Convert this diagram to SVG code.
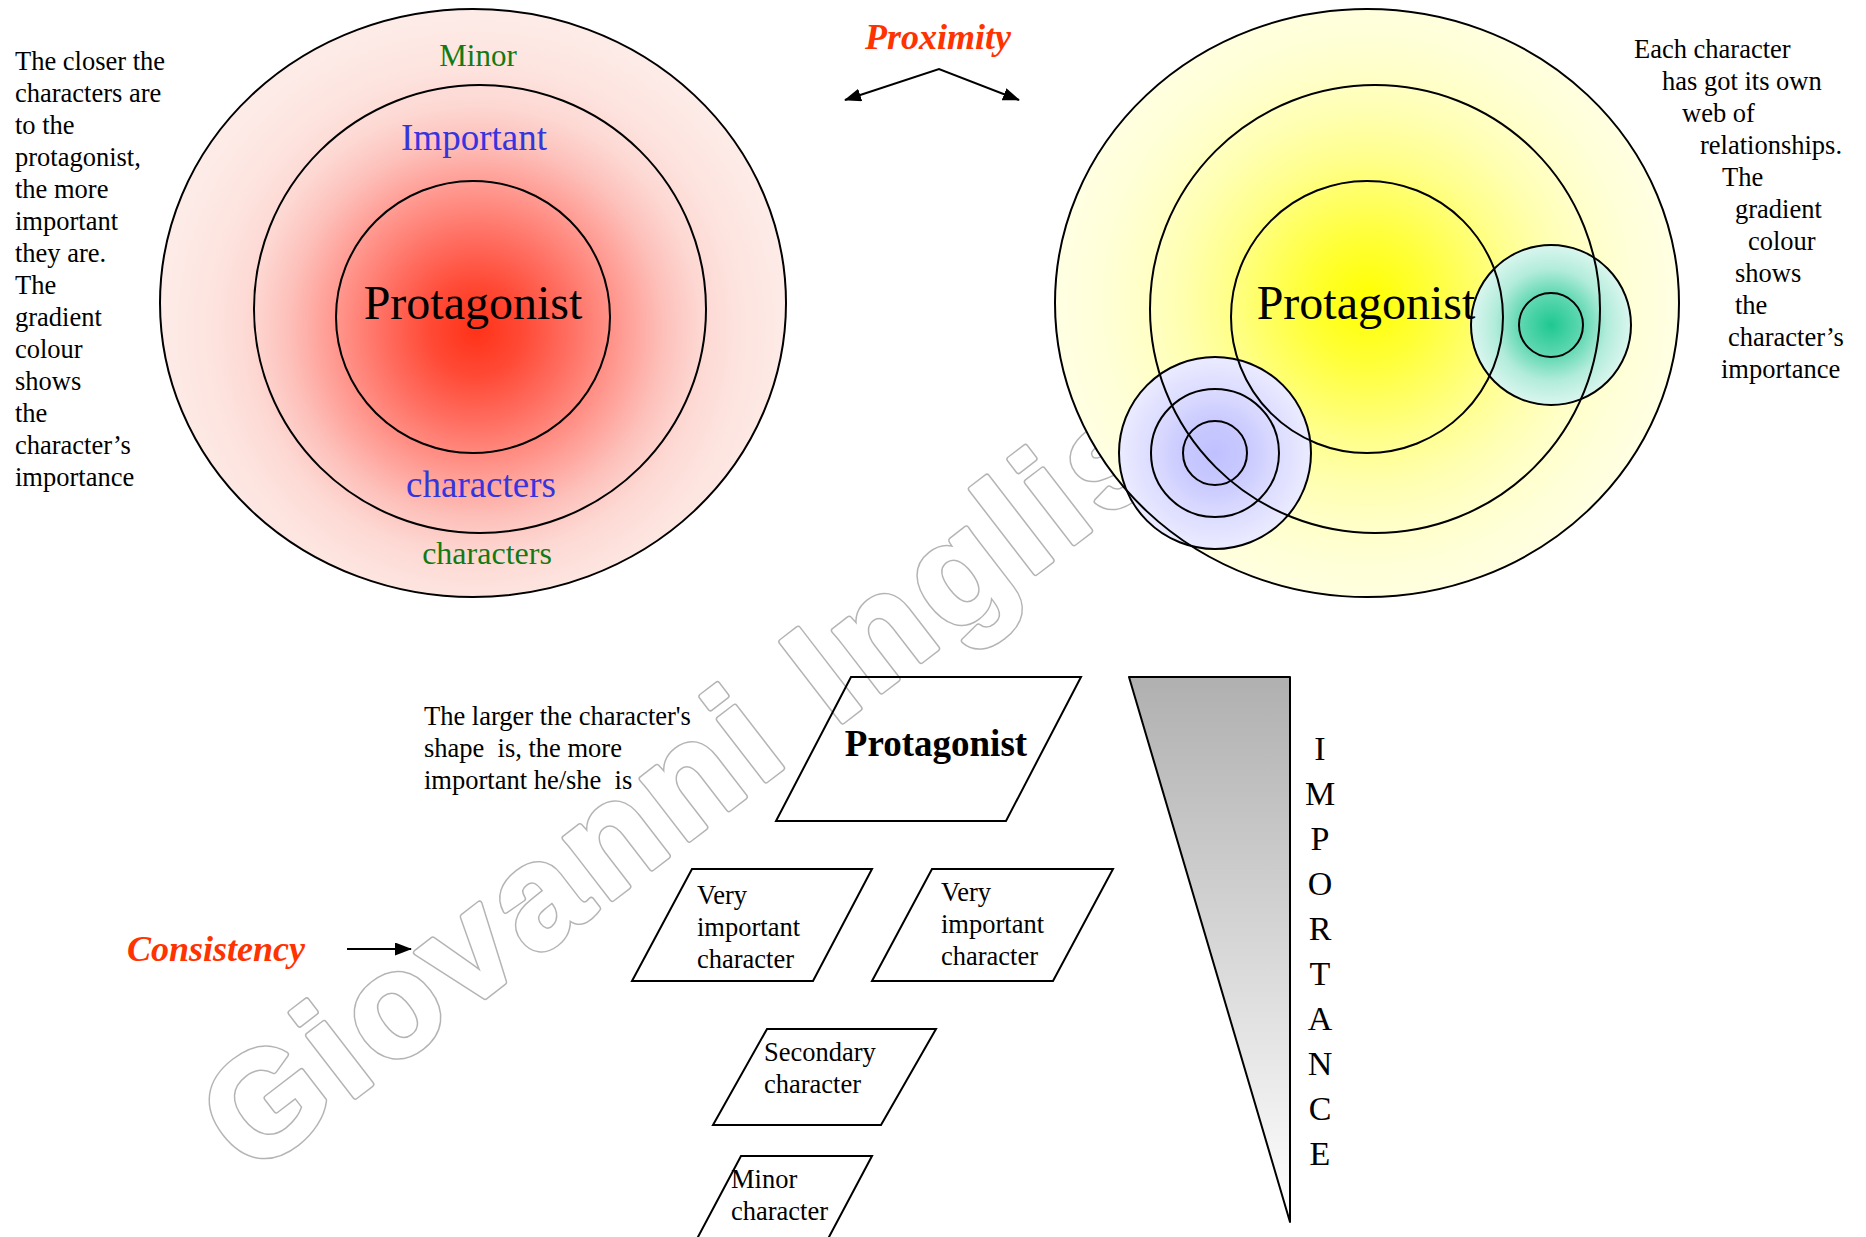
<svg xmlns="http://www.w3.org/2000/svg" width="1866" height="1237" viewBox="0 0 1866 1237">
<style>
.ln{fill:none;stroke:#000;stroke-width:2}
.t{font-family:"Liberation Serif","Times New Roman",serif;font-size:26.5px;fill:#000}
.big{font-family:"Liberation Serif","Times New Roman",serif;font-size:48px;fill:#000;text-anchor:middle}
.em{font-family:"Liberation Serif","Times New Roman",serif;font-size:36px;font-weight:bold;font-style:italic;fill:#ff3300}
.imp{font-family:"Liberation Serif","Times New Roman",serif;font-size:34px;fill:#000;text-anchor:middle}
.wm{font-family:"Liberation Sans",Arial,sans-serif;font-size:146px;font-weight:bold;letter-spacing:8px;stroke-linejoin:round}
.wm1{fill:none;stroke:#b4b4b4;stroke-width:6.5}
.wm2{fill:#fff;stroke:#fff;stroke-width:3.5}
</style>
<defs>
<radialGradient id="gRed" gradientUnits="userSpaceOnUse" cx="476" cy="330" r="313">
<stop offset="0" stop-color="#ff3218"/>
<stop offset="0.15" stop-color="#ff4a36"/>
<stop offset="0.3" stop-color="#ff6f62"/>
<stop offset="0.45" stop-color="#ff978e"/>
<stop offset="0.6" stop-color="#fdc0ba"/>
<stop offset="0.72" stop-color="#fdd8d3"/>
<stop offset="0.85" stop-color="#fde4df"/>
<stop offset="1" stop-color="#fdebe7"/>
</radialGradient>
<radialGradient id="gYel" gradientUnits="userSpaceOnUse" cx="1367" cy="300" r="313">
<stop offset="0" stop-color="#ffff00"/>
<stop offset="0.2" stop-color="#ffff38"/>
<stop offset="0.45" stop-color="#ffff8c"/>
<stop offset="0.6" stop-color="#ffffb2"/>
<stop offset="0.72" stop-color="#ffffc8"/>
<stop offset="0.85" stop-color="#ffffd8"/>
<stop offset="1" stop-color="#ffffe4"/>
</radialGradient>
<radialGradient id="gTeal" gradientUnits="userSpaceOnUse" cx="1551" cy="325" r="80">
<stop offset="0" stop-color="#1ec890"/>
<stop offset="0.4" stop-color="#62d8b3"/>
<stop offset="0.7" stop-color="#b2ecda"/>
<stop offset="1" stop-color="#daf6ee"/>
</radialGradient>
<radialGradient id="gBlue" gradientUnits="userSpaceOnUse" cx="1215" cy="453" r="96">
<stop offset="0" stop-color="#c0c0ff"/>
<stop offset="0.35" stop-color="#cacaff"/>
<stop offset="0.67" stop-color="#dcdcff"/>
<stop offset="1" stop-color="#ebebff"/>
</radialGradient>
<linearGradient id="gTri" x1="0" y1="0" x2="0" y2="1">
<stop offset="0" stop-color="#b0b0b0"/>
<stop offset="1" stop-color="#ffffff"/>
</linearGradient>
<marker id="ah" markerUnits="userSpaceOnUse" markerWidth="17" markerHeight="13" viewBox="0 0 17 13" refX="16" refY="6.5" orient="auto-start-reverse">
<path d="M0,0 L17,6.5 L0,13 z" fill="#000"/>
</marker>
</defs>

<g id="left-diagram">
<ellipse cx="473" cy="303" rx="313" ry="294" fill="url(#gRed)" stroke="#000" stroke-width="2"/>
<ellipse class="ln" cx="480" cy="309" rx="226" ry="224"/>
<ellipse class="ln" cx="473" cy="317" rx="137" ry="136"/>
<text class="big" x="473" y="319">Protagonist</text>
<text x="478" y="66" text-anchor="middle" font-family="Liberation Serif, Times New Roman, serif" font-size="31" fill="#137a13">Minor</text>
<text x="474" y="150" text-anchor="middle" font-family="Liberation Serif, Times New Roman, serif" font-size="37" fill="#3535dd">Important</text>
<text x="481" y="497" text-anchor="middle" font-family="Liberation Serif, Times New Roman, serif" font-size="37" fill="#3535dd">characters</text>
<text x="487" y="564" text-anchor="middle" font-family="Liberation Serif, Times New Roman, serif" font-size="32" fill="#137a13">characters</text>
</g>

<g id="left-note">
<text class="t" x="15" y="70">The closer the</text>
<text class="t" x="15" y="102">characters are</text>
<text class="t" x="15" y="134">to the</text>
<text class="t" x="15" y="166">protagonist,</text>
<text class="t" x="15" y="198">the more</text>
<text class="t" x="15" y="230">important</text>
<text class="t" x="15" y="262">they are.</text>
<text class="t" x="15" y="294">The</text>
<text class="t" x="15" y="326">gradient</text>
<text class="t" x="15" y="358">colour</text>
<text class="t" x="15" y="390">shows</text>
<text class="t" x="15" y="422">the</text>
<text class="t" x="15" y="454">character’s</text>
<text class="t" x="15" y="486">importance</text>
</g>

<g id="proximity">
<text class="em" x="938" y="49" text-anchor="middle">Proximity</text>
</g>

<g id="watermark" transform="translate(251,1177) rotate(-37.6)">
<text class="wm wm1" x="0" y="0">Giovanni Inglis</text>
<text class="wm wm2" x="0" y="0">Giovanni Inglis</text>
</g>

<g id="right-diagram">
<ellipse cx="1367" cy="303" rx="312" ry="294" fill="url(#gYel)"/>
<circle cx="1551" cy="325" r="80" fill="url(#gTeal)"/>
<circle cx="1215" cy="453" r="96" fill="url(#gBlue)"/>
<ellipse class="ln" cx="1367" cy="303" rx="312" ry="294"/>
<ellipse class="ln" cx="1375" cy="309" rx="225" ry="224"/>
<ellipse class="ln" cx="1367" cy="317" rx="136" ry="136"/>
<circle class="ln" cx="1551" cy="325" r="80"/>
<circle class="ln" cx="1551" cy="325" r="32"/>
<circle class="ln" cx="1215" cy="453" r="96"/>
<circle class="ln" cx="1215" cy="453" r="64"/>
<circle class="ln" cx="1215" cy="453" r="32"/>
<text class="big" x="1366" y="319">Protagonist</text>
</g>

<g id="right-note">
<text class="t" x="1634" y="58">Each character</text>
<text class="t" x="1662" y="90">has got its own</text>
<text class="t" x="1682" y="122">web of</text>
<text class="t" x="1700" y="154">relationships.</text>
<text class="t" x="1722" y="186">The</text>
<text class="t" x="1735" y="218">gradient</text>
<text class="t" x="1748" y="250">colour</text>
<text class="t" x="1735" y="282">shows</text>
<text class="t" x="1735" y="314">the</text>
<text class="t" x="1728" y="346">character’s</text>
<text class="t" x="1721" y="378">importance</text>
</g>

<g id="shape-note">
<text class="t" x="424" y="725" xml:space="preserve">The larger the character's</text>
<text class="t" x="424" y="757" xml:space="preserve">shape  is, the more</text>
<text class="t" x="424" y="789" xml:space="preserve">important he/she  is</text>
</g>

<g id="consistency">
<text class="em" x="127" y="961">Consistency</text>
</g>

<g id="node-protagonist">
<polygon class="ln" points="851,677 1081,677 1006,821 776,821"/>
<text x="936" y="756" text-anchor="middle" font-family="Liberation Serif, Times New Roman, serif" font-size="37" font-weight="bold">Protagonist</text>
</g>

<g id="node-very-important-1">
<polygon class="ln" points="692,869 872,869 813,981 632,981"/>
<text class="t" x="697" y="904">Very</text>
<text class="t" x="697" y="936">important</text>
<text class="t" x="697" y="968">character</text>
</g>

<g id="node-very-important-2">
<polygon class="ln" points="932,869 1113,869 1053,981 872,981"/>
<text class="t" x="941" y="901">Very</text>
<text class="t" x="941" y="933">important</text>
<text class="t" x="941" y="965">character</text>
</g>

<g id="node-secondary">
<polygon class="ln" points="767,1029 936,1029 881,1125 713,1125"/>
<text class="t" x="764" y="1061">Secondary</text>
<text class="t" x="764" y="1093">character</text>
</g>

<g id="node-minor">
<polygon class="ln" points="741,1156 872,1156 821,1252 690,1252"/>
<text class="t" x="731" y="1188">Minor</text>
<text class="t" x="731" y="1220">character</text>
</g>

<g id="importance-scale">
<polygon points="1129,677 1290,677 1290,1222" fill="url(#gTri)" stroke="#000" stroke-width="2" stroke-linejoin="round"/>
<text class="imp" x="1320" y="760">I</text>
<text class="imp" x="1320" y="805">M</text>
<text class="imp" x="1320" y="850">P</text>
<text class="imp" x="1320" y="895">O</text>
<text class="imp" x="1320" y="940">R</text>
<text class="imp" x="1320" y="985">T</text>
<text class="imp" x="1320" y="1030">A</text>
<text class="imp" x="1320" y="1075">N</text>
<text class="imp" x="1320" y="1120">C</text>
<text class="imp" x="1320" y="1165">E</text>
</g>

<g id="connectors">
<polyline points="845,100 939,69 1019,100" fill="none" stroke="#000" stroke-width="2" marker-start="url(#ah)" marker-end="url(#ah)"/>
<line x1="347" y1="949" x2="411" y2="949" stroke="#000" stroke-width="2" marker-end="url(#ah)"/>
</g>
</svg>
